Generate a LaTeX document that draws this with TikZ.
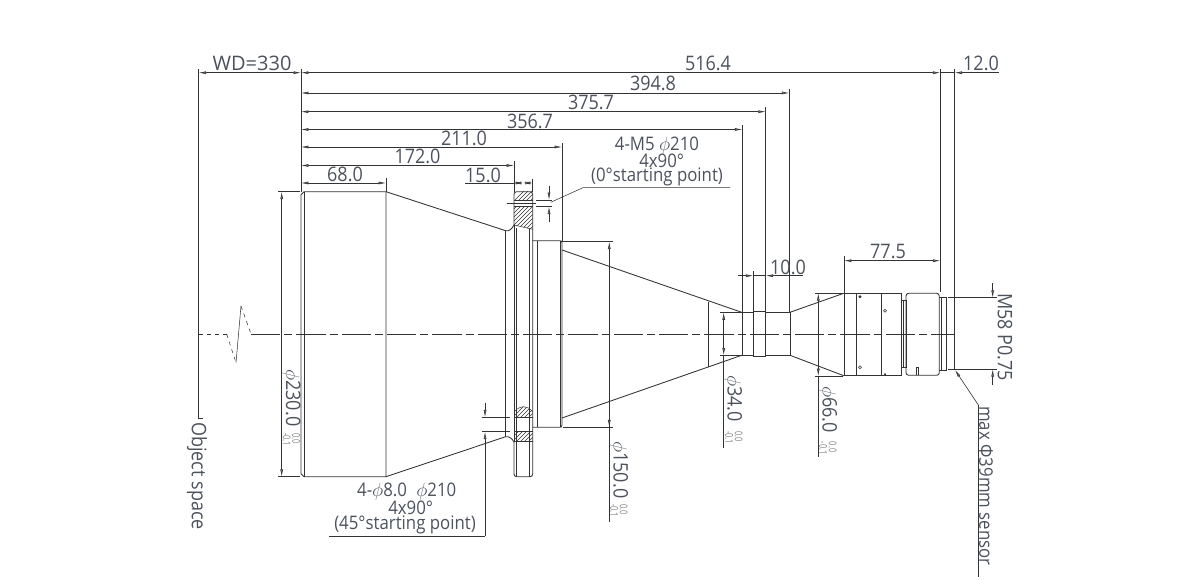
\documentclass[tikz,border=0pt]{standalone}
\usepackage{amsmath}
\usepackage{fontspec}
\setmainfont[FakeStretch=0.9]{Open Sans}
\usetikzlibrary{arrows.meta}
\definecolor{inkline}{rgb}{0.2,0.2,0.2}
\definecolor{inktext}{rgb}{0.3,0.32,0.36}
\tikzset{
  outline/.style={color=inkline,line width=0.65pt},
  thinline/.style={color=inkline,line width=0.4pt},
  chain/.style={color=inkline,line width=0.4pt,dash pattern=on 22pt off 3pt on 6pt off 3pt},
  dimboth/.style={color=inkline,line width=0.45pt,{Latex[length=5.5pt,width=2.2pt,fill=gray]}-{Latex[length=5.5pt,width=2.2pt,fill=gray]}},
  dimend/.style={color=inkline,line width=0.45pt,-{Latex[length=5.5pt,width=2.2pt,fill=gray]}},
  label/.style={font=\fontsize{15}{15}\selectfont,text=inktext,inner sep=0pt},
  callout/.style={label,font=\fontsize{14}{14}\selectfont},
  sidelabel/.style={label,rotate=-90,anchor=west},
  tolerance/.style={font=\fontsize{8}{7.1}\selectfont\addfontfeature{FakeStretch=0.7},text=gray,inner sep=0pt,rotate=-90,anchor=west,align=left},
}
\newcommand{\hatchpatch}[1]{%
  \begin{scope}
    \clip #1;
    \foreach \k in {470,474,...,560} \draw[thinline] (\k,460) -- +(60,-60) (\k,245) -- +(60,-60);
  \end{scope}
}
\begin{document}
\begin{tikzpicture}[x=0.75pt,y=0.75pt,yscale=-1,xscale=1]
\useasboundingbox (0,0) rectangle (1200,580);

% axis and break mark
\draw[thinline,dashed] (199,334) -- (226.7,334);
\draw[thinline,dashed] (226.7,334) -- (236,362.7);
\draw[thinline] (236,362.7) -- (241,306);
\draw[thinline,dashed] (241,306) -- (251,334);
\draw[chain] (251,334) -- (955,334);

% front barrel
\draw[outline] (304,191.7) -- (386,191.7) -- (386,476.7) -- (304,476.7) -- (301,473.7) -- (301,194.7) -- cycle;
\draw[outline] (304,191.7) -- (304,476.7);
% front cone
\draw[outline] (386,191.7) -- (505.7,230.7) .. controls (509,231.5) and (512,229) .. (514,225);
\draw[outline] (386,476.7) -- (505.7,436.7) .. controls (509,436) and (512,438.5) .. (514,442);
\draw[thinline] (505.7,231) -- (505.7,437);

% flange
\draw[outline,rounded corners=2] (514,225) -- (514,191.7) -- (532.7,191.7) -- (532.7,476.7) -- (514,476.7) -- (514,442);
\draw[outline] (514,225) -- (514,442);
\draw[thinline] (516.7,228) -- (516.7,476.7) (529.3,229) -- (529.3,476.7);
\draw[thinline] (514,200) -- (532.7,200) (514,206.7) -- (532.7,206.7);
\draw[thinline] (514,417.7) -- (532.7,417.7) (514,431.7) -- (532.7,431.7);
\hatchpatch{(514,191.7) rectangle (532.7,200)}
\hatchpatch{(514,206.7) -- (532.7,206.7) -- (532.7,229.3) -- (514,225) -- cycle}
\hatchpatch{(514,417.7) -- (532.7,417.7) -- (532.7,412) .. controls (528,405) and (520,405) .. (514,412) -- cycle}
\hatchpatch{(514,431.7) -- (532.7,431.7) -- (532.7,441.7) -- (514,441.7) -- cycle}
\draw[thinline] (514,225) -- (532.7,229.3);
\draw[thinline] (514,441.7) -- (532.7,441.7);
\draw[thinline] (514,412) .. controls (520,405) and (528,405) .. (532.7,412);

% rear block
\draw[outline,rounded corners=1.5] (532.7,240.7) -- (562,240.7) -- (562,427.3) -- (532.7,427.3);
\draw[thinline] (537.3,240.7) -- (537.3,427.3) (560,240.7) -- (560,427.3);

% second cone
\draw[outline] (562,250) -- (741.7,312.3);
\draw[outline] (562,418) -- (741.7,355.3);
\draw[outline,line width=1pt] (708.3,301.7) -- (708.3,366.8);

% neck
\draw[outline] (742.3,312.3) rectangle (753.3,355.3);
\draw[outline] (753.3,311.7) rectangle (765.7,356.3);
\draw[outline] (765.7,312.3) rectangle (790,355.3);
\draw[outline] (790,312.3) -- (843.7,293.3);
\draw[outline] (790,355.3) -- (843.7,375.7);

% rear barrel
\draw[outline] (844,293.3) rectangle (901.7,375.3);
\draw[outline] (856.7,293.3) -- (856.7,375.3) (881,293.3) -- (881,375.3);
\draw[outline] (901.7,300.7) rectangle (906,367.3);
\draw[thinline] (903.3,300.7) -- (903.3,367.3);
\draw[outline,rounded corners=2] (906,293.3) rectangle (939.3,375.3);
\draw[outline] (916.5,375.3) -- (916.5,367) -- (918,367) -- (918,375.3);
\draw[outline] (939.3,297.7) -- (946,297.7) -- (946,370) -- (939.3,370);
\draw[thinline] (941,297.7) -- (941,370);
\fill[inkline] (860,296.7) circle (1.6);
\draw[thinline] (885,310.7) circle (1.5);
\draw[thinline] (860,367.3) circle (1.5);
\fill[inkline] (885,374.3) circle (1.2);

% extension lines
\draw[thinline] (198.7,69) -- (198.7,418) -- (203,418);
\draw[thinline] (301,69) -- (301,191.7);
\draw[thinline] (386,178) -- (386,191.7);
\draw[thinline] (514,161) -- (514,191.7);
\draw[thinline] (532.7,179) -- (532.7,191.7);
\draw[thinline] (562,143) -- (562,240.7);
\draw[thinline] (742.3,125) -- (742.3,312.3);
\draw[thinline] (753.3,271) -- (753.3,311.7);
\draw[thinline] (765.7,107) -- (765.7,311.7);
\draw[thinline] (789.3,89) -- (789.3,312.3);
\draw[thinline] (844,256) -- (844,293.3);
\draw[thinline] (940.3,69) -- (940.3,291.7);
\draw[thinline] (954.7,69) -- (954.7,369.3);
\draw[thinline] (278,191.7) -- (300,191.7) (278,476.7) -- (300,476.7);
\draw[thinline] (562,241.7) -- (613,241.7) (563,427.3) -- (613,427.3);
\draw[thinline] (720,312.5) -- (742,312.5) (720,355.3) -- (742,355.3);
\draw[thinline] (815,293.3) -- (843,293.3) (815,376) -- (843,376);
\draw[thinline] (948,297.7) -- (997,297.7) (948,369.3) -- (997,369.3);

% horizontal dimensions
\draw[dimboth] (198.7,72.7) -- (301,72.7);
\draw[dimboth] (301,72.7) -- (940.3,72.7);
\draw[dimboth] (301,93) -- (789.3,93);
\draw[dimboth] (301,111.7) -- (765.7,111.7);
\draw[dimboth] (301,129.5) -- (742.3,129.5);
\draw[dimboth] (301,147) -- (562,147);
\draw[dimboth] (301,165.5) -- (514,165.5);
\draw[dimboth] (301,183) -- (386,183);
\draw[dimboth] (844,260.7) -- (940.3,260.7);
\draw[dimend] (998.7,72.7) -- (954.7,72.7);
\draw[thinline] (940.3,72.7) -- (954.7,72.7);
\draw[thinline] (465,183) -- (514,183);
\draw[dimboth] (523,183) -- (514,183);
\draw[dimboth] (523,183) -- (532.7,183);
\draw[dimend] (738.3,275.7) -- (753.3,275.7);
\draw[dimend] (803,275.7) -- (765.7,275.7);
\draw[thinline] (753.3,275.7) -- (765.7,275.7);

% vertical dimensions
\draw[dimboth] (281.7,191.7) -- (281.7,476.7);
\draw[thinline] (609.3,300) -- (609.3,521.7);
\draw[dimboth] (609.3,241.7) -- (609.3,427.3);
\draw[dimboth] (723.7,312.5) -- (723.7,355.3);
\draw[thinline] (723.7,355.3) -- (723.7,448);
\draw[dimboth] (818.3,293.3) -- (818.3,376);
\draw[thinline] (818.3,376) -- (818.3,457);
\draw[dimend] (992.7,283.3) -- (992.7,297.7);
\draw[dimend] (992.7,385) -- (992.7,369.3);

% hole dimensions
\draw[chain] (506.7,203.5) -- (540,203.5);
\draw[thinline] (536,200) -- (552,200) (536,206.7) -- (552,206.7);
\draw[dimend] (549,186) -- (549,200);
\draw[dimend] (549,221.7) -- (549,206.7);
\draw[thinline] (481.7,417.3) -- (510,417.3) (481.7,431.7) -- (510,431.7);
\draw[dimend] (485,402.7) -- (485,417.3);
\draw[dimend] (485,536) -- (485,431.7);
\draw[thinline] (329.3,536) -- (485,536);
\draw[thinline] (550.7,202.3) -- (583,187.7) -- (730,187.7);
\draw[dimend] (978.3,405) -- (955,370);
\draw[thinline] (978.3,405) -- (978.3,576.7);

% horizontal labels
\node[label,font=\fontsize{15}{15}\selectfont\addfontfeature{FakeStretch=1}] (wd) at (252,63) {WD=330};
\node[label] (total) at (708,63) {516.4};
\node[label] (rearflange) at (981,63.5) {12.0};
\node[label] (len394) at (653,83) {394.8};
\node[label] (len375) at (591,102.5) {375.7};
\node[label] (len356) at (530,121) {356.7};
\node[label] (len211) at (464,138) {211.0};
\node[label] (len172) at (417.5,156.5) {172.0};
\node[label] (len68) at (345,174) {68.0};
\node[label] (len15) at (483,175) {15.0};
\node[label] (len77) at (888,252) {77.5};
\node[label] (len10) at (788,267) {10.0};

% callouts
\node[callout] (mfive) at (657,146) {4-M5 $\phi$210};
\node[callout] (mfiveb) at (661.7,161) {4x90°};
\node[callout] (mfivec) at (657,176.5) {(0°starting point)};
\node[callout] (hole) at (406.7,492) {4-$\phi$8.0\enspace$\phi$210};
\node[callout] (holeb) at (410.7,508) {4x90°};
\node[callout] (holec) at (405,524.5) {(45°starting point)};

% rotated labels
\node[sidelabel] (objspace) at (197,422) {Object space};
\node[sidelabel] (dia230) at (291.5,369) {$\phi$230.0};
\node[tolerance] (tol230) at (291.5,433) {0.0\\-0.1};
\node[sidelabel] (dia150) at (619,441) {$\phi$150.0};
\node[tolerance] (tol150) at (619,504) {0.0\\-0.1};
\node[sidelabel] (dia34) at (733,375) {$\phi$34.0};
\node[tolerance] (tol34) at (734,431) {0.0\\-0.1};
\node[sidelabel] (dia66) at (828,386) {$\phi$66.0};
\node[tolerance] (tol66) at (828,441.5) {0.0\\-0.1};
\node[sidelabel] (thread) at (1005,293) {M58 P0.75};
\node[sidelabel,font=\fontsize{14}{14}\selectfont] (sensor) at (986,406) {max Φ39mm sensor};
\end{tikzpicture}
\end{document}
